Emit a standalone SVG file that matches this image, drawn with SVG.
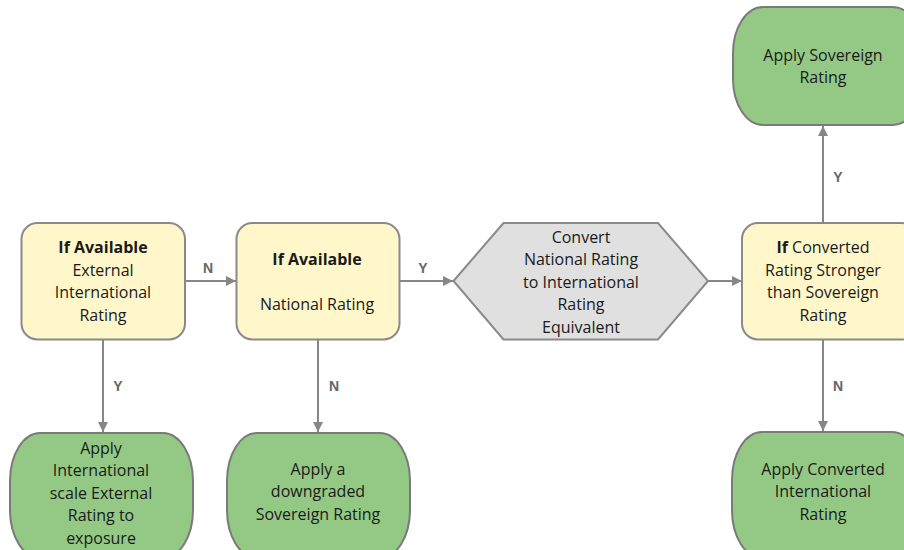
<svg xmlns="http://www.w3.org/2000/svg" width="904" height="550" viewBox="0 0 904 550">
  <defs>
    <marker id="arrow" viewBox="0 0 10 10" refX="10" refY="5" markerWidth="5" markerHeight="5" orient="auto" markerUnits="strokeWidth">
      <path d="M0,0 L10,5 L0,10 z" fill="#878787"/>
    </marker>
    <style>
      .decision { fill: #FFF7C9; stroke: #8A8A8A; stroke-width: 2; }
      .result { fill: #93C985; stroke: #7A7A7A; stroke-width: 2; }
      .process { fill: #E0E0E0; stroke: #8A8A8A; stroke-width: 2; }
      .txt { font-family: "Open Sans", "Liberation Sans", sans-serif; font-size: 16px; fill: #1a1a1a; text-anchor: middle; }
      .b { font-weight: bold; }
      .edge { stroke: #878787; stroke-width: 2; fill: none; marker-end: url(#arrow); }
      .lbl { font-family: "Liberation Sans", Arial, sans-serif; font-size: 14px; font-weight: bold; fill: #666; text-anchor: middle; }
    </style>
  </defs>
  <rect width="904" height="550" fill="#ffffff"/>

  <!-- connectors -->
  <g id="connectors">
    <line class="edge" x1="185" y1="281" x2="236" y2="281"/>
    <text class="lbl" x="208" y="273">N</text>
    <line class="edge" x1="399" y1="281" x2="453" y2="281"/>
    <text class="lbl" x="423" y="273">Y</text>
    <line class="edge" x1="708" y1="281" x2="742" y2="281"/>
    <line class="edge" x1="103" y1="340" x2="103" y2="432"/>
    <text class="lbl" x="118" y="391">Y</text>
    <line class="edge" x1="318" y1="340" x2="318" y2="432"/>
    <text class="lbl" x="334" y="391">N</text>
    <line class="edge" x1="823" y1="223" x2="823" y2="126"/>
    <text class="lbl" x="838" y="182">Y</text>
    <line class="edge" x1="823" y1="340" x2="823" y2="431"/>
    <text class="lbl" x="838" y="391">N</text>
  </g>

  <!-- decision: external international rating -->
  <g id="n-external">
    <rect class="decision" x="21.5" y="223" width="163.5" height="116.5" rx="16" ry="16"/>
    <text class="txt b" x="103" y="253">If Available</text>
    <text class="txt" x="103" y="275.5">External</text>
    <text class="txt" x="103" y="298">International</text>
    <text class="txt" x="103" y="320.5">Rating</text>
  </g>

  <!-- decision: national rating -->
  <g id="n-national">
    <rect class="decision" x="236.5" y="223" width="163" height="116.5" rx="16" ry="16"/>
    <text class="txt b" x="317" y="264.5">If Available</text>
    <text class="txt" x="317" y="309.5">National Rating</text>
  </g>

  <!-- process: conversion -->
  <g id="n-convert">
    <polygon class="process" points="453.5,281 503.5,223 658,223 708,281 658,339.5 503.5,339.5"/>
    <text class="txt" x="581" y="242.5">Convert</text>
    <text class="txt" x="581" y="265">National Rating</text>
    <text class="txt" x="581" y="287.5">to International</text>
    <text class="txt" x="581" y="310">Rating</text>
    <text class="txt" x="581" y="332.5">Equivalent</text>
  </g>

  <!-- decision: converted vs sovereign -->
  <g id="n-compare">
    <rect class="decision" x="742" y="223" width="175" height="116.5" rx="16" ry="16"/>
    <text class="txt" x="823" y="253"><tspan class="b">If</tspan> Converted</text>
    <text class="txt" x="823" y="275.5">Rating Stronger</text>
    <text class="txt" x="823" y="298">than Sovereign</text>
    <text class="txt" x="823" y="320.5">Rating</text>
  </g>

  <!-- result: international external rating -->
  <g id="n-apply-intl">
    <rect class="result" x="10" y="433" width="183" height="125" rx="30" ry="48"/>
    <text class="txt" x="101" y="453.5">Apply</text>
    <text class="txt" x="101" y="476">International</text>
    <text class="txt" x="101" y="498.5">scale External</text>
    <text class="txt" x="101" y="521">Rating to</text>
    <text class="txt" x="101" y="543.5">exposure</text>
  </g>

  <!-- result: downgraded sovereign -->
  <g id="n-apply-down">
    <rect class="result" x="227" y="433" width="183" height="125" rx="30" ry="48"/>
    <text class="txt" x="318" y="474.5">Apply a</text>
    <text class="txt" x="318" y="497">downgraded</text>
    <text class="txt" x="318" y="519.5">Sovereign Rating</text>
  </g>

  <!-- result: sovereign rating -->
  <g id="n-apply-sov">
    <rect class="result" x="733" y="7" width="190" height="118" rx="30" ry="46"/>
    <text class="txt" x="823" y="60.5">Apply Sovereign</text>
    <text class="txt" x="823" y="83">Rating</text>
  </g>

  <!-- result: converted international rating -->
  <g id="n-apply-conv">
    <rect class="result" x="732" y="432" width="190" height="126" rx="30" ry="48"/>
    <text class="txt" x="823" y="474.5">Apply Converted</text>
    <text class="txt" x="823" y="497">International</text>
    <text class="txt" x="823" y="519.5">Rating</text>
  </g>
</svg>
